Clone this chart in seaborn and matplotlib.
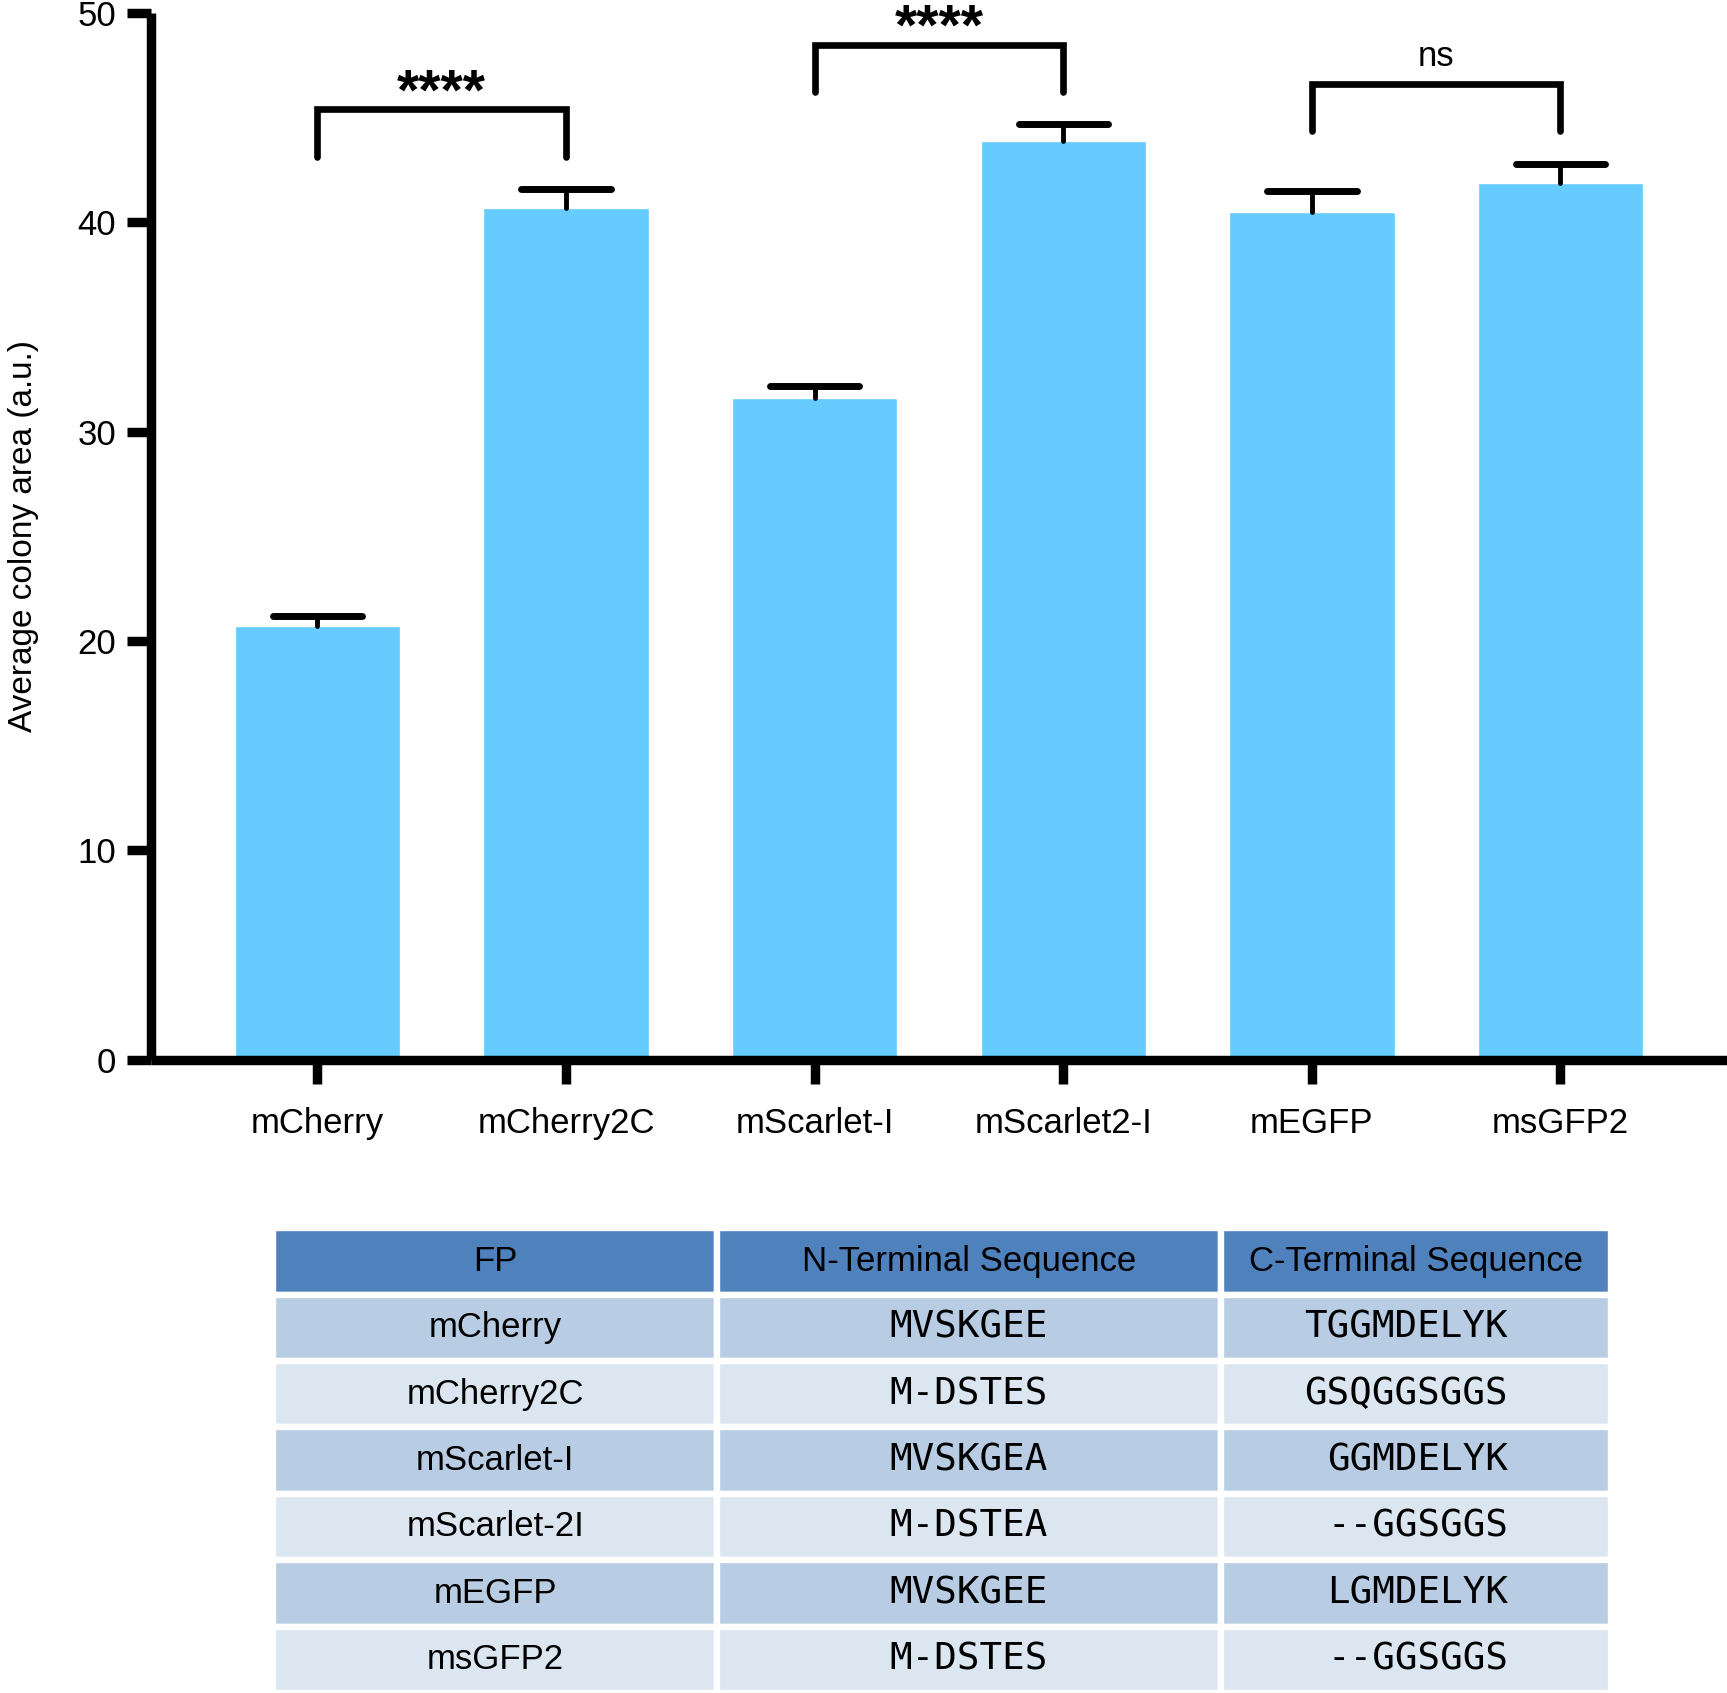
import numpy as np
import matplotlib.pyplot as plt
import seaborn as sns

# Colony area per fluorescent protein + FP terminal sequence table

fps = ["mCherry", "mCherry2C", "mScarlet-I", "mScarlet2-I", "mEGFP", "msGFP2"]
colony_area = [20.7, 40.7, 31.6, 43.9, 40.5, 41.9]
sem = [0.5, 0.9, 0.6, 0.8, 1.0, 0.9]

# significance brackets
pairs = [(0, 1), (2, 3), (4, 5)]
bracket_y = [45.4, 48.5, 46.6]
bracket_labels = ["****", "****", "ns"]

table_fp = ["mCherry", "mCherry2C", "mScarlet-I", "mScarlet-2I", "mEGFP", "msGFP2"]
n_term = ["MVSKGEE", "M-DSTES", "MVSKGEA", "M-DSTEA", "MVSKGEE", "M-DSTES"]
c_term = ["TGGMDELYK", "GSQGGSGGS", "GGMDELYK", "--GGSGGS", "LGMDELYK", "--GGSGGS"]
col_labels = ["FP", "N-Terminal Sequence", "C-Terminal Sequence"]

sns.set_style("ticks", {"axes.edgecolor": "black", "xtick.color": "black",
                        "ytick.color": "black", "text.color": "black",
                        "axes.labelcolor": "black"})
plt.rcParams["font.family"] = ["Liberation Sans", "DejaVu Sans"]

BAR_COLOR = "#66CCFF"
HEADER_COLOR = "#4F81BD"
ROW_COLORS = ["#B8CCE4", "#DCE6F1"]
LW = 6.8

fig = plt.figure(figsize=(17.27, 16.93), dpi=100)
ax = fig.add_axes([0.0874, 0.3741, 0.9126, 0.6181])

sns.barplot(x=fps, y=colony_area, color=BAR_COLOR, width=0.665,
            saturation=1, errorbar=None, ax=ax, zorder=2)

# one-sided error bars (upper only)
xs = np.arange(len(fps))
tops = np.array(colony_area) + np.array(sem)
ax.vlines(xs, colony_area, tops, color="black", linewidth=3.5,
          capstyle="round", zorder=3)
ax.hlines(tops, xs - 0.18, xs + 0.18, color="black", linewidth=5,
          capstyle="round", zorder=3)

# brackets
for (i, j), h, lab in zip(pairs, bracket_y, bracket_labels):
    ax.plot([i, i, j, j], [h - 2.25, h, h, h - 2.25], color="black",
            linewidth=4.8, solid_capstyle="round", solid_joinstyle="miter",
            zorder=4, clip_on=False)
    if lab == "ns":
        ax.text((i + j) / 2, h + 0.9, lab, ha="center", va="baseline",
                fontsize=25, clip_on=False)
    else:
        ax.text((i + j) / 2, h + 0.0, lab, ha="center", va="baseline",
                fontsize=41, fontweight="bold", clip_on=False)

ax.set_xlim(-0.67, 5.67)
ax.set_ylim(0, 50)
ax.set_yticks([0, 10, 20, 30, 40, 50])
ax.set_ylabel("Average colony area (a.u.)", fontsize=24)
ax.yaxis.set_label_coords(-0.071, 0.5)
ax.set_xlabel("")

sns.despine(ax=ax)
for side in ["left", "bottom"]:
    ax.spines[side].set_linewidth(LW)
    ax.spines[side].set_capstyle("butt")
ax.tick_params(axis="both", length=17, width=LW, labelsize=25)
ax.tick_params(axis="y", pad=8)
ax.tick_params(axis="x", pad=17)

# table
tax = fig.add_axes([0.1582, 0.0, 0.7748, 0.2746])
tax.axis("off")
cell_text = [list(r) for r in zip(table_fp, n_term, c_term)]
table = tax.table(cellText=cell_text, colLabels=col_labels,
                  cellLoc="center", colLoc="center",
                  colWidths=[0.332, 0.376, 0.292], bbox=[0, 0, 1, 1])
table.auto_set_font_size(False)

for (r, c), cell in table.get_celld().items():
    cell.set_edgecolor("white")
    cell.set_linewidth(4.6)
    txt = cell.get_text()
    txt.set_color("black")
    if r == 0:
        cell.set_facecolor(HEADER_COLOR)
        txt.set_fontsize(25)
    else:
        cell.set_facecolor(ROW_COLORS[(r - 1) % 2])
        if c == 0:
            txt.set_fontsize(25)
        else:
            txt.set_fontfamily("DejaVu Sans Mono")
            txt.set_fontsize(27)
        if c == 2:
            txt.set_horizontalalignment("right")
            cell.PAD = 0.264

fig.savefig("out.png", dpi=100)
